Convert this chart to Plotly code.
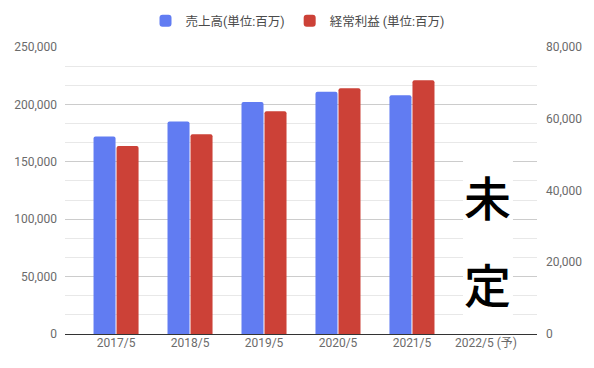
import plotly.graph_objects as go

categories = ["2017/5", "2018/5", "2019/5", "2020/5", "2021/5", "2022/5 (予)"]
sales = [172000, 185000, 202000, 211000, 208000, None]
ordinary_profit = [52400, 55700, 62100, 68500, 70700, None]
left_ticks = [0, 50000, 100000, 150000, 200000, 250000]
right_ticks = [0, 20000, 40000, 60000, 80000]
pending_text = ["未", "定"]

BLUE = "#617cf2"
RED = "#cc4137"
TICK_FONT = dict(family="Roboto, Arial, sans-serif", size=12, color="#6b6b6b")

fig = go.Figure()
fig.add_trace(go.Bar(
    x=categories, y=sales, name="売上高(単位:百万)",
    marker=dict(color=BLUE, cornerradius=2, line=dict(width=0)),
    yaxis="y", offsetgroup="a",
))
fig.add_trace(go.Bar(
    x=categories, y=ordinary_profit, name="経常利益 (単位:百万)",
    marker=dict(color=RED, cornerradius=2, line=dict(width=0)),
    yaxis="y2", offsetgroup="b",
))

fig.update_layout(
    width=594, height=368,
    margin=dict(l=65, r=57, t=47, b=34, autoexpand=False),
    paper_bgcolor="white", plot_bgcolor="white",
    barmode="group", bargap=0.378, bargroupgap=0.043,
    showlegend=True,
    legend=dict(
        orientation="h",
        x=0.4926, xanchor="center", y=1.09, yanchor="middle",
        font=dict(family="Roboto, 'Noto Sans CJK JP', sans-serif", size=12.5, color="#4a4a4a"),
        itemwidth=30, bgcolor="rgba(0,0,0,0)",
    ),
    xaxis=dict(
        type="category", range=[-0.69, 5.69], automargin=False,
        showgrid=False, showline=False, ticks="",
        tickfont=dict(family="Roboto, 'Noto Sans CJK JP', sans-serif", size=12, color="#6b6b6b"),
    ),
    yaxis=dict(
        range=[0, 250000], tickvals=left_ticks, tickformat=",", automargin=False,
        showgrid=True, gridcolor="#cccccc", gridwidth=1,
        minor=dict(dtick=50000 / 3, showgrid=True, gridcolor="#e8e8e8", gridwidth=1),
        zeroline=True, zerolinecolor="#333333", zerolinewidth=1,
        tickfont=TICK_FONT, ticks="", ticklabelstandoff=7,
    ),
    yaxis2=dict(
        range=[0, 80000], tickvals=right_ticks, tickformat=",", automargin=False,
        overlaying="y", side="right", showgrid=False, zeroline=False,
        tickfont=TICK_FONT, ticks="", ticklabelstandoff=8,
    ),
)

# white box covering gridlines behind the "未定" text
fig.add_shape(type="rect", xref="x", yref="paper",
              x0=4.69, x1=5.365, y0=0.043, y1=0.641,
              fillcolor="white", line=dict(width=0), layer="above")

for ch, yy in zip(pending_text, [0.484, 0.178]):
    fig.add_annotation(
        x=5.027, xref="x", y=yy, yref="paper", text=ch, showarrow=False,
        font=dict(family="'Noto Sans CJK JP', sans-serif", size=47, color="black", weight=500),
        xanchor="center", yanchor="middle",
    )

fig.write_html("out.html", config={"displayModeBar": False},
               post_script="document.body.style.margin='0';")
